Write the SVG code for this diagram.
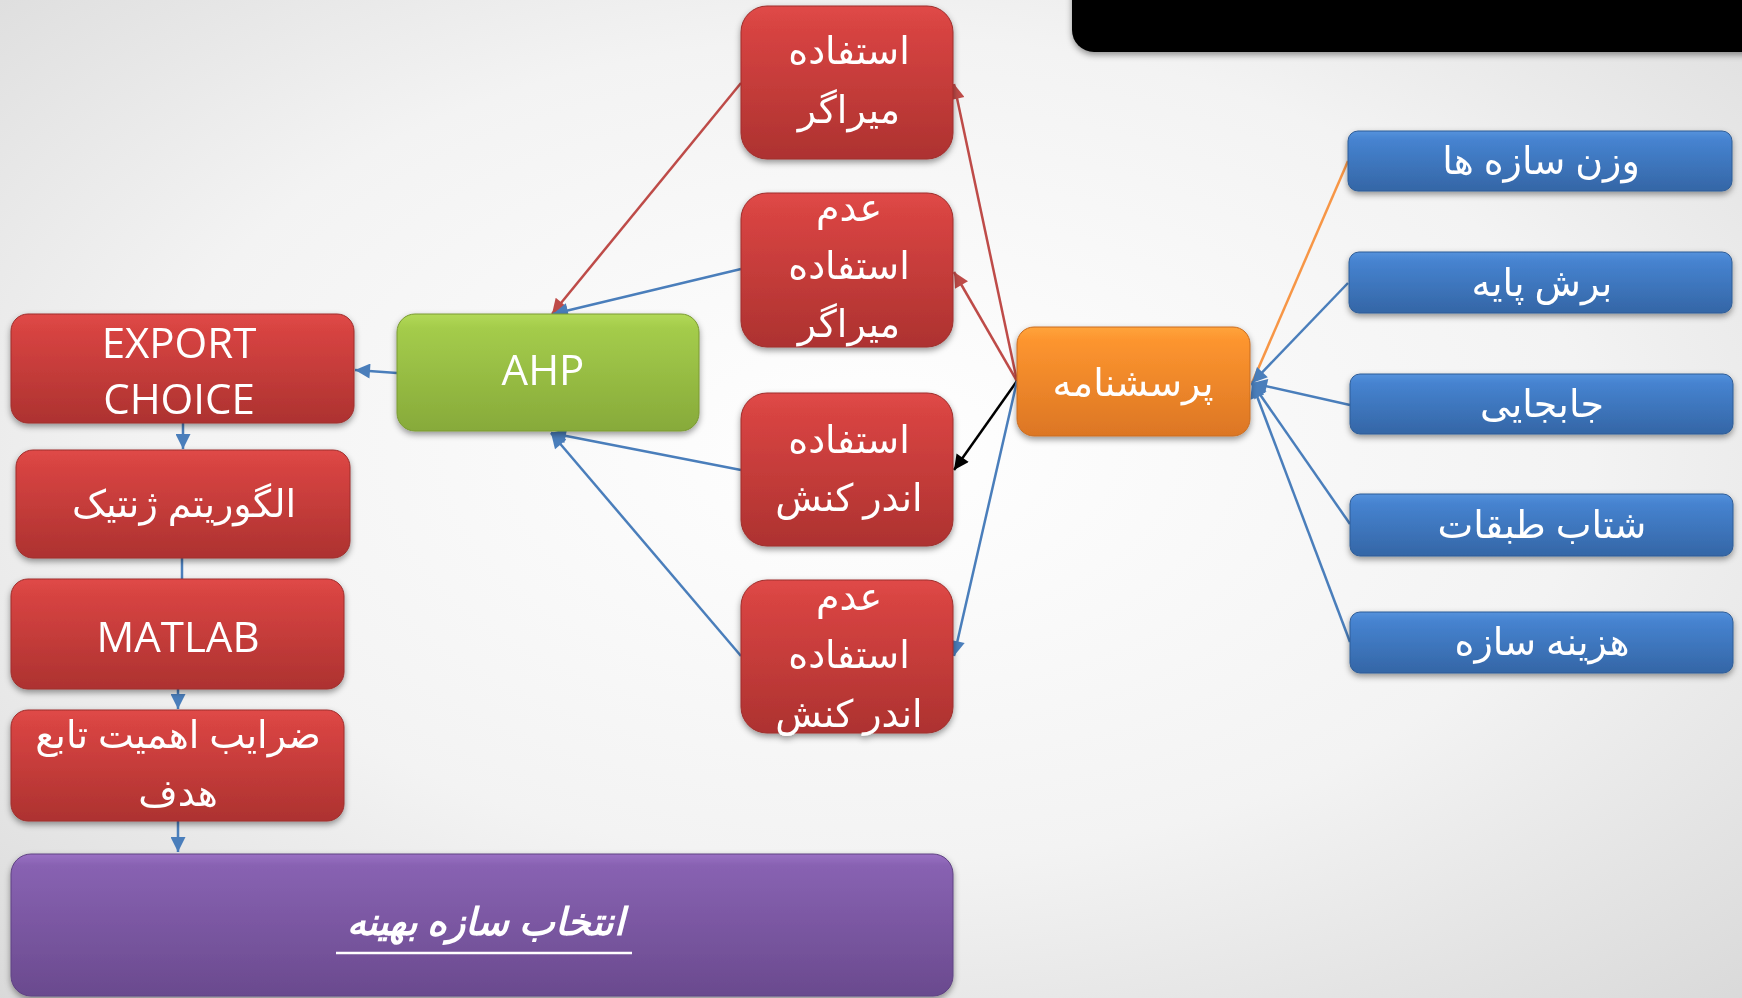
<svg xmlns="http://www.w3.org/2000/svg" width="1742" height="998" viewBox="0 0 1742 998">
  <defs>
    <radialGradient id="bg" cx="0.5" cy="0.45" r="0.75">
      <stop offset="0" stop-color="#ffffff"/>
      <stop offset="0.55" stop-color="#f3f3f3"/>
      <stop offset="1" stop-color="#d9d9d9"/>
    </radialGradient>
    <linearGradient id="gRed" x1="0" y1="0" x2="0" y2="1">
      <stop offset="0" stop-color="#e04a48"/>
      <stop offset="0.12" stop-color="#d84442"/>
      <stop offset="1" stop-color="#ad3230"/>
    </linearGradient>
    <linearGradient id="gGreen" x1="0" y1="0" x2="0" y2="1">
      <stop offset="0" stop-color="#b2d957"/>
      <stop offset="0.12" stop-color="#a4cc4b"/>
      <stop offset="1" stop-color="#87aa3a"/>
    </linearGradient>
    <linearGradient id="gOrange" x1="0" y1="0" x2="0" y2="1">
      <stop offset="0" stop-color="#ffa43c"/>
      <stop offset="0.12" stop-color="#fd952f"/>
      <stop offset="1" stop-color="#dc7624"/>
    </linearGradient>
    <linearGradient id="gBlue" x1="0" y1="0" x2="0" y2="1">
      <stop offset="0" stop-color="#5592dc"/>
      <stop offset="0.15" stop-color="#4683d0"/>
      <stop offset="1" stop-color="#3466a6"/>
    </linearGradient>
    <linearGradient id="gPurple" x1="0" y1="0" x2="0" y2="1">
      <stop offset="0" stop-color="#9a70c4"/>
      <stop offset="0.08" stop-color="#8862b2"/>
      <stop offset="1" stop-color="#6a4a8e"/>
    </linearGradient>
    <filter id="shadow" x="-10%" y="-10%" width="120%" height="130%">
      <feDropShadow dx="0" dy="3" stdDeviation="3" flood-color="#000" flood-opacity="0.4"/>
    </filter>
    <marker id="arBlue" viewBox="0 0 10 10" refX="10" refY="5" markerWidth="17" markerHeight="15" markerUnits="userSpaceOnUse" orient="auto">
      <path d="M0,0 L10,5 L0,10 z" fill="#4a7ebb"/>
    </marker>
    <marker id="arRed" viewBox="0 0 10 10" refX="10" refY="5" markerWidth="17" markerHeight="15" markerUnits="userSpaceOnUse" orient="auto">
      <path d="M0,0 L10,5 L0,10 z" fill="#be4b48"/>
    </marker>
    <marker id="arBlack" viewBox="0 0 10 10" refX="10" refY="5" markerWidth="17" markerHeight="15" markerUnits="userSpaceOnUse" orient="auto">
      <path d="M0,0 L10,5 L0,10 z" fill="#000000"/>
    </marker>
    <style>
      .box { filter: url(#shadow); }
      .red { fill: url(#gRed); stroke: #9e2e2c; stroke-width: 1; }
      .green { fill: url(#gGreen); stroke: #7a9a33; stroke-width: 1; }
      .orange { fill: url(#gOrange); stroke: #c96c20; stroke-width: 1; }
      .blue { fill: url(#gBlue); stroke: #2f5d97; stroke-width: 1; }
      .purple { fill: url(#gPurple); stroke: #5f4282; stroke-width: 1; }
      .lat { font-family: 'Open Sans', 'Liberation Sans', sans-serif; font-size: 42px; fill: #ffffff; text-anchor: middle; }
      .fa { font-family: 'Noto Sans', 'DejaVu Sans', sans-serif; font-size: 38px; fill: #ffffff; text-anchor: middle; direction: rtl; }
      .c-blue { stroke: #4a7ebb; stroke-width: 2.5; fill: none; }
      .c-red { stroke: #be4b48; stroke-width: 2.5; fill: none; }
      .c-black { stroke: #000000; stroke-width: 2.5; fill: none; }
      .c-orange { stroke: #f79646; stroke-width: 2.5; fill: none; }
    </style>
  </defs>

  <!-- background -->
  <rect x="0" y="0" width="1742" height="998" fill="url(#bg)"/>

  <!-- dark banner, top right -->
  <g id="banner">
    <rect x="1072" y="-30" width="700" height="82" rx="22" fill="#050505" filter="url(#shadow)"/>
  </g>

  <!-- connectors -->
  <g id="connectors">
    <!-- alternatives to AHP -->
    <line class="c-red" x1="741" y1="83" x2="552" y2="314" marker-end="url(#arRed)"/>
    <line class="c-blue" x1="741" y1="269" x2="553" y2="314" marker-end="url(#arBlue)"/>
    <line class="c-blue" x1="741" y1="470" x2="551" y2="433" marker-end="url(#arBlue)"/>
    <line class="c-blue" x1="741" y1="656" x2="551" y2="433" marker-end="url(#arBlue)"/>
    <!-- AHP to EXPORT CHOICE -->
    <line class="c-blue" x1="397" y1="373" x2="355" y2="370" marker-end="url(#arBlue)"/>
    <!-- left column chain -->
    <line class="c-blue" x1="183" y1="423" x2="183" y2="449" marker-end="url(#arBlue)"/>
    <line class="c-blue" x1="182" y1="558" x2="182" y2="579"/>
    <line class="c-blue" x1="178" y1="689" x2="178" y2="709" marker-end="url(#arBlue)"/>
    <line class="c-blue" x1="178" y1="821" x2="178" y2="852" marker-end="url(#arBlue)"/>
    <!-- questionnaire to alternatives -->
    <line class="c-red" x1="1017" y1="381" x2="954" y2="84" marker-end="url(#arRed)"/>
    <line class="c-red" x1="1017" y1="381" x2="954" y2="272" marker-end="url(#arRed)"/>
    <line class="c-black" x1="1017" y1="381" x2="954" y2="470" marker-end="url(#arBlack)"/>
    <line class="c-blue" x1="1017" y1="381" x2="954" y2="656" marker-end="url(#arBlue)"/>
    <!-- criteria to questionnaire -->
    <line class="c-orange" x1="1348" y1="161" x2="1252" y2="383"/>
    <line class="c-blue" x1="1348" y1="283" x2="1252" y2="383" marker-end="url(#arBlue)"/>
    <line class="c-blue" x1="1350" y1="405" x2="1252" y2="383" marker-end="url(#arBlue)"/>
    <line class="c-blue" x1="1350" y1="524" x2="1252" y2="383" marker-end="url(#arBlue)"/>
    <line class="c-blue" x1="1350" y1="642" x2="1252" y2="383" marker-end="url(#arBlue)"/>
  </g>

  <!-- alternatives column -->
  <g id="damper-use" class="box">
    <rect class="red" x="741" y="6" width="212" height="153" rx="26"/>
    <text class="fa" x="849" y="64">استفاده</text>
    <text class="fa" x="849" y="123">میراگر</text>
  </g>
  <g id="damper-nouse" class="box">
    <rect class="red" x="741" y="193" width="212" height="154" rx="26"/>
    <text class="fa" x="849" y="221">عدم</text>
    <text class="fa" x="849" y="279">استفاده</text>
    <text class="fa" x="849" y="337">میراگر</text>
  </g>
  <g id="ssi-use" class="box">
    <rect class="red" x="741" y="393" width="212" height="153" rx="26"/>
    <text class="fa" x="849" y="453">استفاده</text>
    <text class="fa" x="849" y="511">اندر کنش</text>
  </g>
  <g id="ssi-nouse" class="box">
    <rect class="red" x="741" y="580" width="212" height="153" rx="26"/>
    <text class="fa" x="849" y="610">عدم</text>
    <text class="fa" x="849" y="668">استفاده</text>
    <text class="fa" x="849" y="727">اندر کنش</text>
  </g>

  <!-- questionnaire -->
  <g id="questionnaire" class="box">
    <rect class="orange" x="1017" y="327" width="233" height="109" rx="17"/>
    <text class="fa" x="1133" y="396">پرسشنامه</text>
  </g>

  <!-- criteria -->
  <g id="crit-weight" class="box">
    <rect class="blue" x="1348" y="131" width="384" height="60" rx="10"/>
    <text class="fa" x="1541" y="174">وزن سازه ها</text>
  </g>
  <g id="crit-shear" class="box">
    <rect class="blue" x="1349" y="252" width="383" height="61" rx="10"/>
    <text class="fa" x="1542" y="296">برش پایه</text>
  </g>
  <g id="crit-drift" class="box">
    <rect class="blue" x="1350" y="374" width="383" height="60" rx="10"/>
    <text class="fa" x="1542" y="417">جابجایی</text>
  </g>
  <g id="crit-accel" class="box">
    <rect class="blue" x="1350" y="494" width="383" height="62" rx="10"/>
    <text class="fa" x="1542" y="538">شتاب طبقات</text>
  </g>
  <g id="crit-cost" class="box">
    <rect class="blue" x="1350" y="612" width="383" height="61" rx="10"/>
    <text class="fa" x="1542" y="655">هزینه سازه</text>
  </g>

  <!-- AHP -->
  <g id="ahp" class="box">
    <rect class="green" x="397" y="314" width="302" height="117" rx="18"/>
    <text class="lat" x="543" y="385">AHP</text>
  </g>

  <!-- left column -->
  <g id="export-choice" class="box">
    <rect class="red" x="11" y="314" width="343" height="109" rx="17"/>
    <text class="lat" x="179" y="358">EXPORT</text>
    <text class="lat" x="179" y="414">CHOICE</text>
  </g>
  <g id="genetic" class="box">
    <rect class="red" x="16" y="450" width="334" height="108" rx="17"/>
    <text class="fa" x="184" y="517">الگوریتم ژنتیک</text>
  </g>
  <g id="matlab" class="box">
    <rect class="red" x="11" y="579" width="333" height="110" rx="17"/>
    <text class="lat" x="178" y="652">MATLAB</text>
  </g>
  <g id="weights" class="box">
    <rect class="red" x="11" y="710" width="333" height="111" rx="17"/>
    <text class="fa" x="178" y="748">ضرایب اهمیت تابع</text>
    <text class="fa" x="178" y="806">هدف</text>
  </g>

  <!-- result -->
  <g id="optimal" class="box">
    <rect class="purple" x="11" y="854" width="942" height="142" rx="20"/>
    <text class="fa" x="486" y="935" font-size="41" font-weight="bold" font-style="italic">انتخاب سازه بهینه</text>
    <line x1="336" y1="953" x2="632" y2="953" stroke="#ffffff" stroke-width="2.5"/>
  </g>
</svg>
